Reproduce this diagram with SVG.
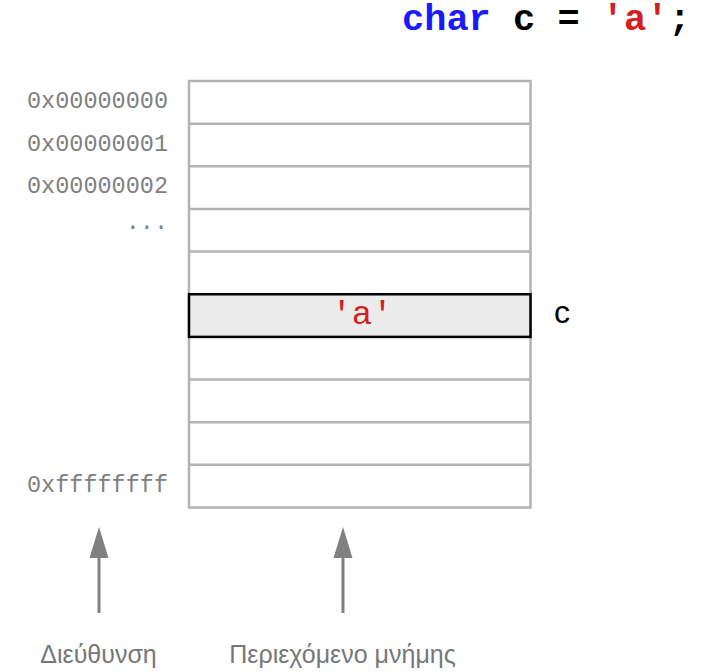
<svg xmlns="http://www.w3.org/2000/svg" width="711" height="672" viewBox="0 0 711 672">
<style>
.addr{font-family:"Liberation Mono","Courier New",monospace;font-size:23.5px;fill:#808080;text-anchor:end}
.grid{stroke:#b3b3b3;stroke-width:2.5;fill:none}
.code{font-family:"Liberation Mono","Courier New",monospace;font-size:37px;font-weight:bold}
.lbl{font-family:"Liberation Sans",Arial,sans-serif;font-size:25px;fill:#777777;text-anchor:middle}
.arr{stroke:#808080;stroke-width:3}
</style>
<g id="title">
<text class="code" x="402" y="30" xml:space="preserve"><tspan fill="#1a1aff">char</tspan><tspan fill="#000"> c = </tspan><tspan fill="#d42020">'a'</tspan><tspan fill="#000">;</tspan></text>
</g>
<g id="memory">
<rect class="grid" x="189" y="81" width="341.5" height="426.5"/>
<line class="grid" x1="189" y1="123.65" x2="530.5" y2="123.65"/>
<line class="grid" x1="189" y1="166.3" x2="530.5" y2="166.3"/>
<line class="grid" x1="189" y1="209" x2="530.5" y2="209"/>
<line class="grid" x1="189" y1="251.6" x2="530.5" y2="251.6"/>
<line class="grid" x1="189" y1="379.55" x2="530.5" y2="379.55"/>
<line class="grid" x1="189" y1="422.2" x2="530.5" y2="422.2"/>
<line class="grid" x1="189" y1="464.85" x2="530.5" y2="464.85"/>
</g>
<g id="cell-c">
<rect x="189" y="294.25" width="341.5" height="42.65" fill="#ebebeb" stroke="#000" stroke-width="2.5"/>
<text x="362" y="324" font-family="Liberation Mono,'Courier New',monospace" font-size="34" fill="#d42020" text-anchor="middle">'a'</text>
</g>
<g id="var-c">
<text x="554" y="323" font-family="Liberation Sans,Arial,sans-serif" font-size="32" fill="#000">c</text>
</g>
<g id="addresses">
<text class="addr" x="168" y="108">0x00000000</text>
<text class="addr" x="168" y="150.5">0x00000001</text>
<text class="addr" x="168" y="193">0x00000002</text>
<text class="addr" x="168" y="229">...</text>
<text class="addr" x="168" y="492">0xffffffff</text>
</g>
<g id="connectors">
<line class="arr" x1="99" y1="613" x2="99" y2="552"/>
<polygon points="99,527 89.5,558 108.5,558" fill="#808080"/>
<line class="arr" x1="343" y1="613" x2="343" y2="552"/>
<polygon points="343,527 333.5,558 352.5,558" fill="#808080"/>
</g>
<g id="labels">
<text class="lbl" x="98.5" y="663">Διεύθυνση</text>
<text class="lbl" x="342.5" y="663">Περιεχόμενο μνήμης</text>
</g>
</svg>
